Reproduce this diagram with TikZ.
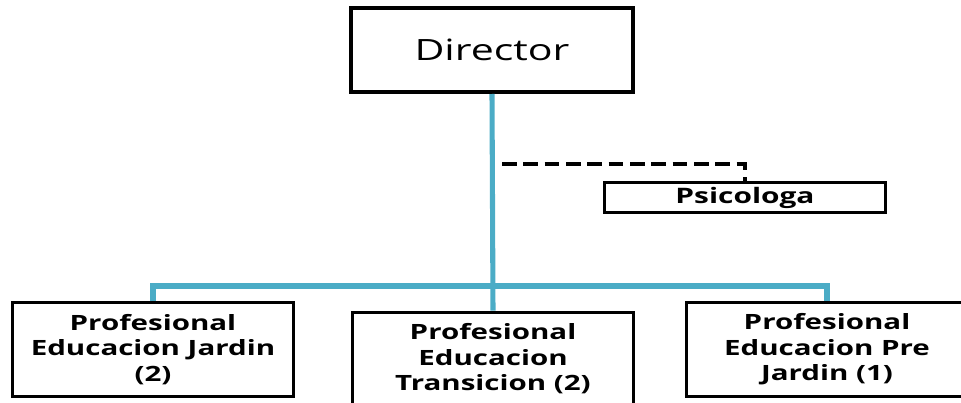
\documentclass[tikz,border=0pt]{standalone}
\usepackage{fontspec}
\setmainfont[FakeStretch=1.4]{Open Sans}
\usepackage{tikz}
\usetikzlibrary{positioning,calc}
\definecolor{treeblue}{HTML}{4BACC6}

\begin{document}
\begin{tikzpicture}[x=0.75pt,y=-0.75pt,
      box/.style={rectangle, draw, line width=2.4pt, inner sep=0pt, align=center,
        minimum width=211pt, minimum height=70pt, font=\fontsize{15.8}{19.2}\selectfont\bfseries},
      tree/.style={draw=treeblue, line width=3.8pt},
      dash line/.style={draw, line width=2.3pt, dash pattern=on 11pt off 5pt}]

    \useasboundingbox (0,0) rectangle (961,403);
    \clip (0,0) rectangle (961,403);

    \node[box, line width=3pt, minimum height=63pt, font=\fontsize{22}{26}\selectfont] (dir) at (492,50) {Director};
    \node[box, minimum height=23pt, font=\fontsize{16}{18}\selectfont\bfseries] (psi) at (745,197.5) {Psicologa};
    \node[box] (jar) at (153,349.5) {Profesional\\Educacion Jardin\\(2)};
    \node[box] (tra) at (493,359) {Profesional\\Educacion\\Transicion (2)};
    \node[box] (pre) at (827,349.5) {Profesional\\Educacion Pre\\Jardin (1)};

    \coordinate (bus) at (492,286);
    \coordinate (tap) at (502,164);

    % blue lines
    \draw[tree] (dir.south) -- (tra.north);
    \draw[tree] (jar.north) |- (bus) -| (pre.north);

    % dashed line
    \draw[dash line] (tap) -| (psi.north);
\end{tikzpicture}
\end{document}
